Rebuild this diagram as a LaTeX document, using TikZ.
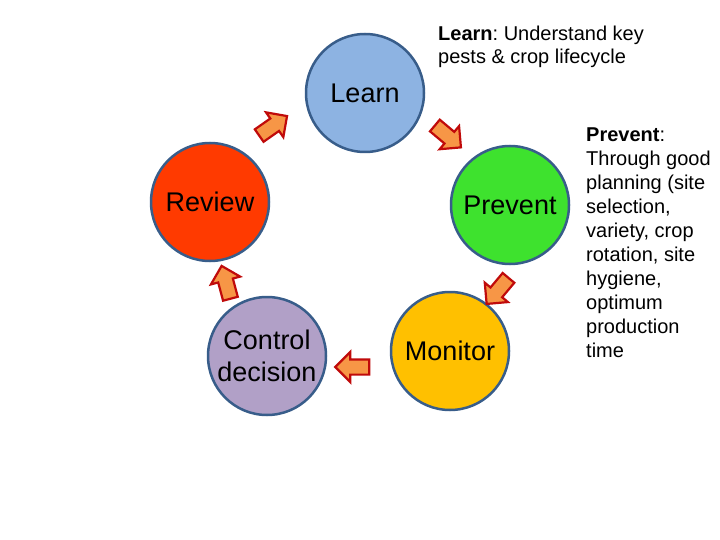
\documentclass[tikz,border=0pt]{standalone}
\usepackage{fontspec}
\setmainfont{Liberation Sans}
\frenchspacing
\usetikzlibrary{shapes.arrows}
\definecolor{cLearn}{RGB}{141,179,226}
\definecolor{cReview}{RGB}{255,58,0}
\definecolor{cPrevent}{RGB}{62,226,46}
\definecolor{cControl}{RGB}{177,160,199}
\definecolor{cMonitor}{RGB}{255,192,0}
\definecolor{cOutline}{RGB}{56,93,138}
\definecolor{cArrowFill}{RGB}{247,150,70}
\definecolor{cArrowLine}{RGB}{192,10,10}
\tikzset{
  stage/.style={circle, draw=cOutline, line width=2.5pt, minimum size=118pt, inner sep=0pt,
    align=center, font=\fontsize{27}{32}\selectfont},
  blockarrow/.style={single arrow, draw=cArrowLine, fill=cArrowFill, line width=2.2pt,
    minimum height=34pt, inner xsep=0pt, inner ysep=6.5pt, single arrow head extend=7.5pt,
    single arrow head indent=0pt, text height=0pt, text depth=0pt},
  note/.style={anchor=north west, inner sep=0pt, align=left, font=\fontsize{20}{24}\selectfont}
}
\begin{document}
\begin{tikzpicture}[x=1pt,y=-1pt]
\useasboundingbox (0,0) rectangle (720,540);
\fill[white] (0,0) rectangle (720,540);
\node[stage, fill=cLearn] (learn) at (365,93) {Learn};
\node[stage, fill=cReview] (review) at (210,202) {Review};
\node[stage, fill=cPrevent] (prevent) at (510,205) {Prevent};
\node[stage, fill=cControl] (control) at (267,356) {Control\\decision};
\node[stage, fill=cMonitor] (monitor) at (450,351) {Monitor};
\node[blockarrow, rotate=35] (a1) at (270,128) {};
\node[blockarrow, rotate=-40] (a2) at (445,134) {};
\node[blockarrow, rotate=230] (a3) at (500,288) {};
\node[blockarrow, rotate=180] (a4) at (356,367) {};
\node[blockarrow, rotate=105] (a5) at (227,286) {};
\node[note, font=\fontsize{20}{23}\selectfont] (learnnote) at (438,26)
  {\textbf{Learn}: Understand key\\pests \& crop lifecycle};
\node[note] (preventnote) at (586,128)
  {\textbf{Prevent}:\\Through good\\planning (site\\selection,\\variety, crop\\rotation, site\\hygiene,\\optimum\\production\\time};
\end{tikzpicture}
\end{document}
